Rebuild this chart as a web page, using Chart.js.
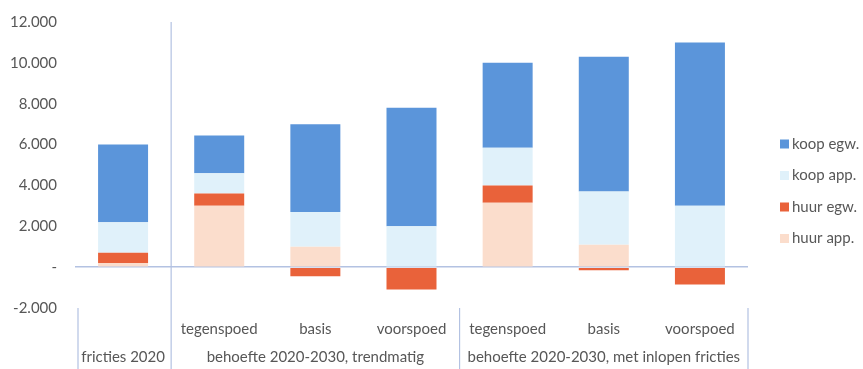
<!DOCTYPE html>
<html>
<head>
<meta charset="utf-8">
<script src="https://cdn.jsdelivr.net/npm/chart.js@4"></script>
<style>
  html, body { margin: 0; padding: 0; background: #fff; }
  #wrap { width: 863px; height: 369px; position: relative; }
</style>
</head>
<body>
<div id="wrap"><canvas id="chart"></canvas></div>
<script>
// scenario labels (first row under the bars)
const categories = ['', 'tegenspoed', 'basis', 'voorspoed', 'tegenspoed', 'basis', 'voorspoed'];
// group labels (second row) and the category indices they cover
const groupNames = ['fricties 2020', 'behoefte 2020-2030, trendmatig', 'behoefte 2020-2030, met inlopen fricties'];
const groupStart = [0, 1, 4];
const groupEnd = [0, 3, 6];

// series, bottom of the stack first
const huurApp = [200, 3000, 1000, 0, 3150, 1100, 0];
const huurEgw = [500, 600, -450, -1100, 850, -150, -850];
const koopApp = [1500, 1000, 1700, 2000, 1850, 2600, 3000];
const koopEgw = [3800, 1850, 4300, 5800, 4150, 6600, 8000];

const yMin = -2000, yMax = 12000, yStep = 2000;

const TEXT = '#575757';
const LINE = '#b3c2e2';
const FONT = 'Lato, "Open Sans", sans-serif';

function fmt(v) {
  if (v === 0) return '-';
  const s = Math.abs(v).toString().replace(/\B(?=(\d{3})+(?!\d))/g, '.');
  return (v < 0 ? '-' : '') + s;
}

// group labels, separators and legend
const extras = {
  id: 'extras',
  afterDraw(chart) {
    const ctx = chart.ctx;
    const x = chart.scales.x;
    const area = chart.chartArea;
    const H = chart.height;
    const bound = i => (x.getPixelForValue(i - 1) + x.getPixelForValue(i)) / 2;

    ctx.save();
    ctx.strokeStyle = LINE;
    ctx.lineWidth = 1.2;
    groupStart.forEach((s, g) => {
      const left = s === 0 ? area.left + 3 : bound(s);
      const top = g === 1 ? area.top : area.bottom;
      ctx.beginPath();
      ctx.moveTo(left, top);
      ctx.lineTo(left, H);
      ctx.stroke();
    });
    ctx.beginPath();
    ctx.moveTo(area.right, area.bottom);
    ctx.lineTo(area.right, H);
    ctx.stroke();

    ctx.fillStyle = TEXT;
    ctx.font = '15px ' + FONT;
    ctx.textAlign = 'center';
    ctx.textBaseline = 'middle';
    groupNames.forEach((name, g) => {
      const l = groupStart[g] === 0 ? area.left : bound(groupStart[g]);
      const r = groupEnd[g] === categories.length - 1 ? area.right : bound(groupEnd[g] + 1);
      ctx.fillText(name, (l + r) / 2, 357);
    });

    // legend, top series first
    const ds = chart.data.datasets.slice().reverse();
    ctx.textAlign = 'left';
    ds.forEach((d, i) => {
      const y = 144 + i * 31.5;
      ctx.fillStyle = d.backgroundColor;
      ctx.fillRect(780, y - 4.5, 9, 9);
      ctx.fillStyle = TEXT;
      ctx.fillText(d.label, 792, y);
    });
    ctx.restore();
  }
};

new Chart(document.getElementById('chart'), {
  type: 'bar',
  data: {
    labels: categories,
    datasets: [
      { label: 'huur app.', data: huurApp, backgroundColor: 'rgb(251,221,204)' },
      { label: 'huur egw.', data: huurEgw, backgroundColor: 'rgb(233,98,58)' },
      { label: 'koop app.', data: koopApp, backgroundColor: 'rgb(224,241,250)' },
      { label: 'koop egw.', data: koopEgw, backgroundColor: 'rgb(91,149,218)' }
    ]
  },
  options: {
    responsive: true,
    maintainAspectRatio: false,
    animation: false,
    layout: { padding: { left: 0, right: 115, top: 22, bottom: 27 } },
    datasets: { bar: { categoryPercentage: 1, barPercentage: 0.52 } },
    plugins: { legend: { display: false }, tooltip: { enabled: false } },
    scales: {
      x: {
        stacked: true,
        grid: { display: false },
        border: { display: false },
        ticks: { color: TEXT, font: { family: FONT, size: 15 }, padding: 4, maxRotation: 0 }
      },
      y: {
        stacked: true,
        min: yMin,
        max: yMax,
        border: { display: false },
        afterFit: s => { s.width = 75; s.paddingTop = 0; },
        grid: {
          drawTicks: false,
          lineWidth: 1.5,
          color: c => (c.tick && c.tick.value === 0 ? LINE : 'transparent')
        },
        ticks: {
          stepSize: yStep,
          color: TEXT,
          padding: 18,
          font: { family: FONT, size: 15 },
          callback: v => fmt(v)
        }
      }
    }
  },
  plugins: [extras]
});
</script>
</body>
</html>
